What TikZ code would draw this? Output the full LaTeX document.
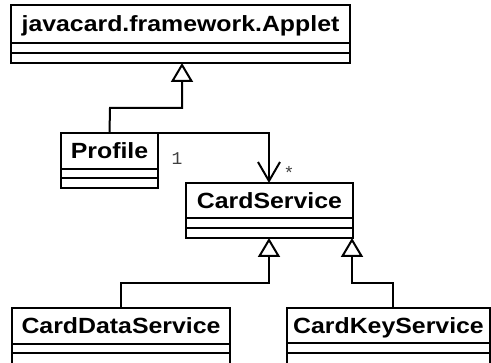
\documentclass[tikz,border=0pt]{standalone}
\usepackage{fontspec}
\setmainfont{Liberation Sans}
\setmonofont{Liberation Mono}
\newfontfamily\clsfont[FakeStretch=1.13]{Liberation Sans}
\usetikzlibrary{arrows.meta}
\definecolor{lblgray}{HTML}{404040}
\tikzset{
  clsname/.style={draw, line width=2pt, rectangle, inner sep=0pt, outer sep=0pt,
    text height=15.5pt, text depth=0pt, font=\clsfont\bfseries\fontsize{22}{22}\selectfont},
  clsline/.style={draw, line width=2pt},
  gen/.style={draw, line width=2pt, -{Triangle[open, length=19pt, width=22pt, fill=white]}},
  assoc/.style={draw, line width=2pt, -{Straight Barb[length=19pt, width=22pt]}},
  mult/.style={inner sep=0pt, text=lblgray, font=\ttfamily\fontsize{18}{18}\selectfont}
}
% #1 name, #2 x1, #3 y1, #4 x2, #5 y name bottom, #6 y mid, #7 y bottom, #8 text
\newcommand\umlcls[8]{%
  \node[clsname, minimum width={(#4-#2)*1pt}, minimum height={(#5-#3)*1pt}]
    (#1) at ({(#2+#4)/2},{(#3+#5)/2}) {#8};
  \draw[clsline] (#1.south west) -- (#2,#7) -- (#4,#7) -- (#1.south east);
  \draw[clsline] (#2,#6) -- (#4,#6);
}
\begin{document}
\begin{tikzpicture}[x=1pt, y=-1pt]
\useasboundingbox (0,0) rectangle (491,363);
\clip (0,0) rectangle (491,363);
\umlcls{applet}{11}{5}{350}{43}{53}{63}{javacard.framework.Applet}
\umlcls{profile}{61}{133}{158}{169}{178}{188}{Profile}
\umlcls{cardservice}{186}{183}{353}{218}{228}{238}{CardService}
\umlcls{carddata}{12}{308}{230}{344}{353}{375}{CardDataService}
\umlcls{cardkey}{287}{308}{490}{343}{353}{375}{CardKeyService}
\coordinate (appletTip) at (182,63);
\coordinate (csTop) at (269,183);
\coordinate (csTipL) at (269,238);
\coordinate (csTipR) at (352,238);
\coordinate (cdTop) at (121,308);
\coordinate (ckTop) at (393,308);
\draw[gen] (profile.north) -- (110,108) -| (appletTip);
\draw[assoc] (profile.north east) -| (csTop);
\draw[gen] (cdTop) -- (121,283) -| (csTipL);
\draw[gen] (ckTop) -- (393,283) -| (csTipR);
\node[mult] (m1) at (177,159) {1};
\node[mult] (m2) at (289,173) {*};
\end{tikzpicture}
\end{document}
